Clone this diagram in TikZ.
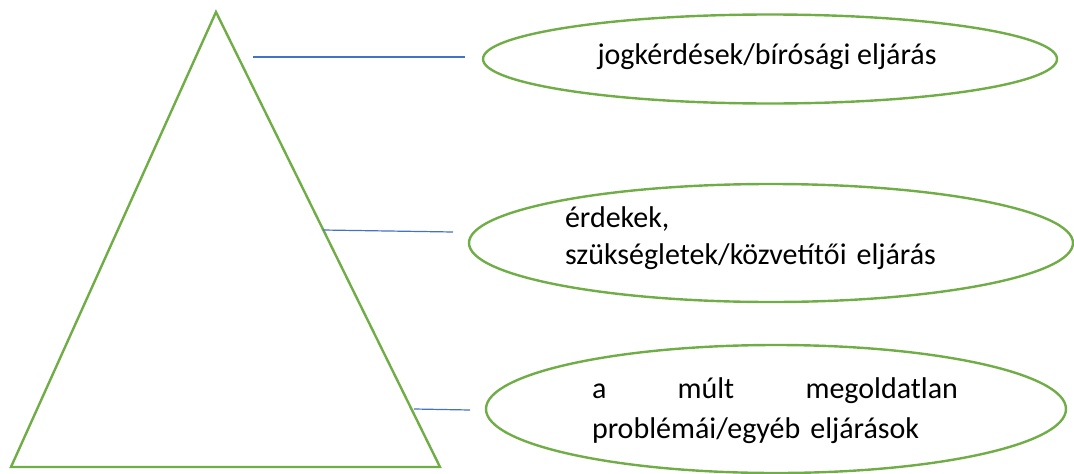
\documentclass[tikz,border=0pt]{standalone}
\usepackage{fontspec}
\setmainfont{Carlito}
\usetikzlibrary{shapes.geometric}
\definecolor{c70AD47}{RGB}{112,173,71}
\definecolor{c4472C4}{RGB}{68,114,196}

\begin{document}
\begin{tikzpicture}[y=1pt,x=1pt,yscale=-1, inner sep=0pt, outer sep=0pt,
    level/.style={draw=c70AD47,line width=2.4pt,ellipse},
    lbl/.style={font=\fontsize{30}{37}\selectfont,align=left},
    tie/.style={draw=c4472C4,line width=1.2pt}]
  \useasboundingbox (0,0) rectangle (1074,474);
  % pyramid
  \path[draw=c70AD47,line width=2.4pt] (216,12) -- (440,467) -- (11,467) -- cycle;
  % levels
  \node[level,minimum width=574pt,minimum height=89pt] (jog) at (770,59) {};
  \node[level,minimum width=604pt,minimum height=118pt] (erdek) at (771,243) {};
  \node[level,minimum width=580pt,minimum height=128pt] (mult) at (776,409) {};
  \node[lbl] (jogtext) at (767,57) {jogkérdések/bírósági eljárás};
  \node[lbl,anchor=west,text width=385pt] (erdektext) at (565,238)
    {érdekek,\\szükségletek/közvetítői eljárás};
  \node[lbl,font=\fontsize{30}{40}\selectfont,anchor=west,text width=366pt] (multtext) at (592,411)
    {a\hfill múlt\hfill megoldatlan\\problémái/egyéb eljárások};
  % ties
  \coordinate (jogA) at (253,57);
  \coordinate (jogB) at (465,57);
  \coordinate (erdekA) at (323,230);
  \coordinate (erdekB) at (453,232);
  \coordinate (multA) at (414,409);
  \coordinate (multB) at (470,410);
  \draw[tie] (jogA) -- (jogB);
  \draw[tie] (erdekA) -- (erdekB);
  \draw[tie] (multA) -- (multB);
\end{tikzpicture}
\end{document}
